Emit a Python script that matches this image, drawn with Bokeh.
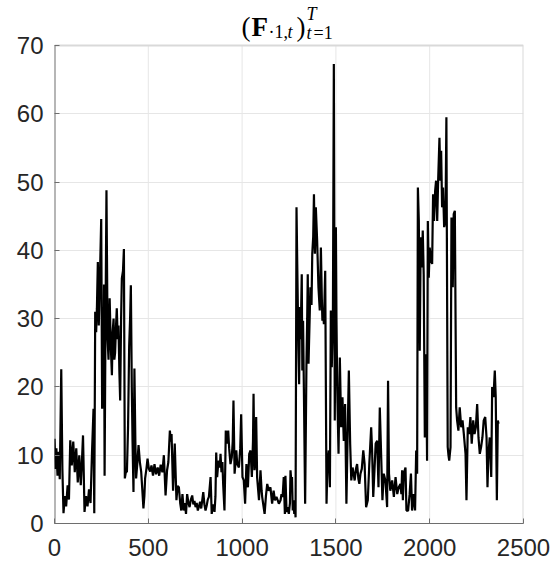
from bokeh.plotting import figure
from bokeh.models import Range1d, FixedTicker, Label
from bokeh.embed import file_html
from bokeh.resources import INLINE

# time index t and series values F(.,1,t)
t = [0, 5, 10, 16, 22, 28, 36, 42, 48, 55, 62, 70, 77, 84, 92, 100, 108, 116, 124, 132,
     140, 146, 152, 160, 168, 176, 184, 192, 200, 208, 212, 217, 222, 226, 231, 236, 242, 249, 254, 258,
     261, 264, 267, 272, 277, 283, 288, 294, 300, 306, 310, 315, 319, 323, 328, 332, 337, 341, 346, 350,
     355, 359, 365, 370, 375, 380, 386, 392, 398, 403, 407, 412, 416, 421, 426, 431, 435, 442, 448, 455,
     462, 468, 474, 479, 483, 490, 496, 503, 510,
     517, 525, 533, 541, 550, 558, 566, 575, 583, 592, 600, 607, 615, 620, 624, 632, 641, 650, 656, 663,
     670, 676, 682, 689, 695, 701, 707, 714, 720, 727, 734, 740, 746, 752, 758, 764, 770, 776, 782, 788,
     793, 799, 805, 811, 817, 823, 832, 838, 845, 853, 858, 862, 867, 872, 876, 881, 885, 890, 895, 899,
     906, 910, 913, 920, 926, 931, 938, 945, 950, 954, 960, 965, 969, 974, 983, 990, 995, 1002, 1009, 1016,
     1023, 1031, 1038, 1045, 1052, 1058, 1061, 1066, 1071, 1075, 1080, 1090, 1098, 1104, 1107, 1120, 1127, 1134, 1142, 1151,
     1160, 1168, 1175, 1183, 1190, 1196, 1205, 1210, 1216, 1222, 1228, 1231, 1237, 1243, 1249, 1255, 1258, 1262, 1266, 1270,
     1274, 1278, 1282, 1285, 1290, 1294, 1297, 1300, 1304, 1308, 1312, 1318, 1321, 1325, 1330, 1336, 1343, 1347, 1350, 1354,
     1360, 1364, 1370, 1374, 1379, 1383, 1388, 1393, 1400, 1407, 1414, 1420, 1425, 1428, 1432, 1436, 1443, 1450, 1455, 1462,
     1468, 1473, 1478, 1484, 1489, 1494, 1500, 1503, 1507, 1514, 1521, 1528, 1535, 1542, 1549, 1556, 1563, 1569, 1576, 1582,
     1589, 1596, 1600, 1607, 1613, 1620, 1625, 1631, 1638, 1646, 1653, 1661, 1670, 1678, 1688, 1693, 1699, 1706, 1712, 1720,
     1727, 1734, 1741, 1748, 1755, 1764, 1773, 1778, 1783, 1790, 1800, 1809, 1818, 1827, 1835, 1844, 1849, 1853, 1857, 1862,
     1871, 1876, 1885, 1893, 1900, 1906, 1915, 1922, 1928, 1933, 1937, 1942, 1947, 1952, 1958, 1963, 1968, 1974, 1981, 1986,
     1990, 1995, 2000, 2007, 2013, 2018, 2023, 2029, 2034, 2040, 2045, 2052, 2057, 2061, 2066, 2071, 2077, 2084, 2089, 2096,
     2100, 2104, 2111, 2116, 2123, 2128, 2134, 2141, 2146, 2153, 2160, 2168, 2175, 2182, 2191, 2196, 2203, 2210, 2217, 2224,
     2232, 2239, 2246, 2253, 2260, 2267, 2274, 2281, 2288, 2296, 2303, 2308, 2313, 2320, 2328, 2333, 2340, 2347, 2352, 2358,
     2363, 2367]

F = [12.4, 8, 11, 7, 10.5, 6.5, 22.6, 8, 1.5, 4, 2.5, 5.6, 3.5, 12.2, 8.5, 12, 7.5, 11, 6, 10,
     5.6, 9, 12.9, 1.7, 4, 2.5, 5, 3, 10.5, 16.8, 1.5, 31, 28, 31.5, 38.3, 29, 36, 44.6, 16.8, 28,
     23, 35, 7, 30, 48.8, 27, 24, 33, 26, 21.7, 28, 30, 24, 25, 29, 31.5, 27, 29, 22, 18,
     30, 35.9, 37, 40.2, 6.6, 7.5, 7.6, 14, 26, 30, 34.9, 20, 12, 4.6, 22.7, 12, 6.6, 9, 11.5, 9,
     7.6, 5, 2.2, 4, 6.6, 8, 9.5, 8, 7.6,
     8.5, 7, 8.7, 7.2, 8.2, 7, 8.6, 7.5, 10, 4.1, 7.8, 9, 13.6, 12, 13.1, 4.8, 11.7, 3.4, 5.5, 5.3,
     3, 1.9, 4.3, 1.9, 3, 1.4, 4.3, 3, 2.4, 3.5, 4.1, 2.8, 3.3, 2.4, 3, 1.9, 2.5, 3.2, 2.2, 3.5,
     4.6, 2.8, 1.9, 2.6, 3.5, 3.9, 6.8, 1.4, 2.8, 1.7, 4, 10.4, 6.8, 8.5, 9.2, 8.2, 10.2, 7.5, 9, 5.8,
     1.9, 8, 13.6, 11.7, 13.6, 11, 8.7, 9.7, 12, 18, 7.3, 9, 10.7, 8.7, 8.2, 11, 16, 6.8, 6.3, 2.9,
     8.7, 5.3, 10.2, 10.7, 6.8, 12, 19, 7.8, 9, 15.6, 6.8, 3.4, 7.8, 4.8, 3.9, 1.4, 4, 5.8, 4.8, 5.3,
     2.9, 4.8, 3.4, 3.9, 3.4, 2.9, 3.4, 4.3, 3.9, 6.8, 1.4, 7, 1.7, 2.4, 1.4, 3, 7.8, 6.3, 6.8, 1.9,
     3.4, 1.4, 2.5, 0.9, 46.3, 38, 32, 26, 20.4, 31.7, 27, 36.5, 22.4, 29.7, 18, 2.9, 23.4, 30, 36.5, 23.4,
     30, 34.6, 32, 39.5, 42, 48.2, 39.5, 46.3, 41.4, 34.6, 31.2, 40.4, 33, 29.7, 31, 29.2, 37, 2.9, 8.7, 10.7,
     5.3, 31.2, 22.9, 29.7, 67.3, 15.1, 43.4, 30, 20, 10.2, 24.3, 14.1, 18.5, 12.1, 17.5, 2.9, 13.6, 22.4, 11.7, 6.3,
     8.2, 7, 6.3, 8, 8.7, 6.5, 5.8, 7.3, 8, 10.7, 8.7, 2.4, 3.4, 8.7, 14.1, 10.7, 3.9, 8, 11.7, 12.1,
     5.3, 17, 10.2, 3.4, 7.3, 6.3, 2.4, 20.9, 7.3, 4.8, 6.3, 3.9, 6.8, 4.3, 5.3, 5.8, 4.3, 7.8, 3.4, 7.3,
     8.2, 1.9, 1.9, 4.3, 7.3, 1.9, 4.3, 1.9, 10.7, 7.3, 49.2, 44.3, 25.3, 41.9, 37.5, 42.9, 36.5, 12.6, 24.8, 9.2,
     44.3, 36, 40.4, 38.5, 38, 48.2, 44.3, 48.7, 50.2, 44.3, 50.2, 56.5, 50.2, 54.6, 46.3, 49.2, 43.4, 44.3, 59.5, 11.2,
     10, 9.2, 11.2, 44.8, 34.6, 45.3, 45.8, 17, 15.1, 13.6, 17, 14.1, 15.1, 13.1, 10.2, 3.4, 14.1, 13.1, 15.6, 11.7,
     15.1, 13.1, 14.1, 17.5, 12.6, 10.2, 11.2, 12.6, 15.1, 15.6, 12.6, 5.3, 10.2, 12.6, 6.8, 20, 18.5, 22.4, 18.5, 3.4,
     15.1, 14.6]

x_ticks = [0, 500, 1000, 1500, 2000, 2500]
y_ticks = [0, 10, 20, 30, 40, 50, 60, 70]

W, H = 552, 566
FL, FB = 54, 523          # frame left / bottom (page px)
AX_TOP = 45               # where the value 70 sits (page px)
FT = 2                    # frame top (title lives inside the frame area)
XMAX, YMAX = x_ticks[-1], y_ticks[-1]
y_hi = YMAX * (FB - FT) / (FB - AX_TOP)

p = figure(width=W, height=H, output_backend="svg", toolbar_location=None,
           x_range=Range1d(0, XMAX), y_range=Range1d(0, y_hi),
           min_border_left=FL, min_border_right=W - 523, min_border_top=FT,
           min_border_bottom=H - FB)
p.background_fill_color = "white"
p.border_fill_color = "white"
p.outline_line_color = None

for ax, ticks in ((p.xaxis, x_ticks), (p.yaxis, y_ticks)):
    ax.ticker = FixedTicker(ticks=ticks)
    ax.major_label_text_font = "Liberation Sans"
    ax.major_label_text_font_size = "24px"
    ax.major_label_text_color = "#262626"
    ax.axis_line_color = "#6e6e6e"
    ax.axis_line_width = 1
    ax.major_tick_line_color = "#6e6e6e"
    ax.major_tick_in = 5
    ax.major_tick_out = 0
    ax.minor_tick_line_color = None
p.yaxis.axis_line_color = None
p.xaxis.major_label_standoff = 15
p.yaxis.major_label_standoff = 11

# grid: horizontal lines from the y ticks, vertical ones limited to the axes box
p.ygrid.grid_line_color = "#e6e6e6"
p.xgrid.grid_line_color = None
p.segment(x0=x_ticks[1:-1], y0=[0] * (len(x_ticks) - 2), x1=x_ticks[1:-1],
          y1=[YMAX] * (len(x_ticks) - 2), line_color="#e6e6e6", line_width=1)
# box: top and right light, left dark
p.segment(x0=[0, XMAX], y0=[YMAX, 0], x1=[XMAX, XMAX], y1=[YMAX, YMAX],
          line_color="#d9d9d9", line_width=2)
p.segment(x0=[0], y0=[0], x1=[0], y1=[YMAX], line_color="#6e6e6e", line_width=2)

p.line(t, F, line_color="black", line_width=2.2)

# title (F_{.1,t})_{t=1}^T assembled from text pieces (page px: x from left, baseline y from top)
pieces = [
    ("(", 241, 26, "27px", "normal"),
    ("F", 251, 26, "27px", "bold"),
    ("\u00b71,", 268, 31, "18px", "normal"),
    ("t", 287, 31, "18px", "italic"),
    (")", 296, 26, "27px", "normal"),
    ("T", 306, 13, "18px", "italic"),
    ("t", 306, 32, "18px", "italic"),
    ("=1", 313, 32, "18px", "normal"),
]
for txt, xs, ys, size, style in pieces:
    p.add_layout(Label(x=xs - FL, y=FB - ys, x_units="screen", y_units="screen",
                       text=txt, text_font="Liberation Serif", text_font_size=size,
                       text_font_style=style, text_color="black",
                       text_align="left", text_baseline="alphabetic"))

open("out.html", "w").write(file_html(p, INLINE))
